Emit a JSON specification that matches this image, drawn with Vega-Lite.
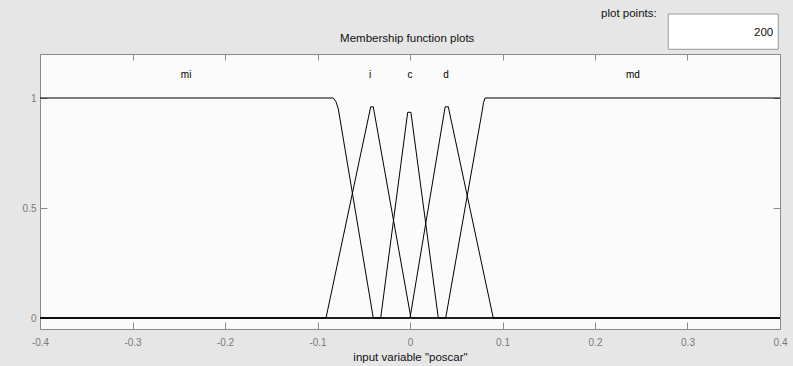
{
  "$schema": "https://vega.github.io/schema/vega-lite/v6.json",
  "width": 740,
  "height": 275,
  "autosize": {"type": "none"},
  "padding": {"left": 40, "top": 54, "right": 13, "bottom": 37},
  "background": "#e6e6e6",
  "config": {
    "locale": {"number": {"decimal": ".", "thousands": ",", "grouping": [3], "currency": ["$", ""], "minus": "-"}},
    "view": {"fill": "#fbfbfb", "stroke": "#8a8a8a", "strokeWidth": 1},
    "axis": {
      "domain": false,
      "grid": false,
      "tickColor": "#8a8a8a",
      "tickWidth": 1,
      "labelFont": "Liberation Sans",
      "labelFontSize": 10,
      "labelColor": "#7a7a7a",
      "titleFont": "Liberation Sans",
      "titleFontSize": 11.5,
      "titleFontWeight": "normal",
      "titleColor": "#111111"
    },
    "text": {"font": "Liberation Sans"}
  },
  "datasets": {
    "mf": [
      {"mf": "mi", "x": -0.4, "mu": 1},
      {"mf": "mi", "x": -0.0829, "mu": 1},
      {"mf": "mi", "x": -0.08, "mu": 0.983},
      {"mf": "mi", "x": -0.0775, "mu": 0.95},
      {"mf": "mi", "x": -0.0397, "mu": 0},
      {"mf": "mi", "x": 0.4, "mu": 0},
      {"mf": "i", "x": -0.4, "mu": 0},
      {"mf": "i", "x": -0.0908, "mu": 0},
      {"mf": "i", "x": -0.0425, "mu": 0.96},
      {"mf": "i", "x": -0.0397, "mu": 0.96},
      {"mf": "i", "x": 0.001, "mu": 0},
      {"mf": "i", "x": 0.4, "mu": 0},
      {"mf": "c", "x": -0.4, "mu": 0},
      {"mf": "c", "x": -0.0317, "mu": 0},
      {"mf": "c", "x": -0.0025, "mu": 0.935},
      {"mf": "c", "x": 0.001, "mu": 0.935},
      {"mf": "c", "x": 0.0306, "mu": 0},
      {"mf": "c", "x": 0.4, "mu": 0},
      {"mf": "d", "x": -0.4, "mu": 0},
      {"mf": "d", "x": 0, "mu": 0},
      {"mf": "d", "x": 0.038, "mu": 0.96},
      {"mf": "d", "x": 0.0414, "mu": 0.96},
      {"mf": "d", "x": 0.09, "mu": 0},
      {"mf": "d", "x": 0.4, "mu": 0},
      {"mf": "md", "x": -0.4, "mu": 0},
      {"mf": "md", "x": 0.0386, "mu": 0},
      {"mf": "md", "x": 0.0784, "mu": 0.95},
      {"mf": "md", "x": 0.0795, "mu": 0.98},
      {"mf": "md", "x": 0.0811, "mu": 1},
      {"mf": "md", "x": 0.4, "mu": 1}
    ],
    "names": [
      {"mf": "mi", "x": -0.242},
      {"mf": "i", "x": -0.043},
      {"mf": "c", "x": 0.0},
      {"mf": "d", "x": 0.039},
      {"mf": "md", "x": 0.241}
    ],
    "setting": [
      {"heading": "Membership function plots", "label": "plot points:", "value": "200"}
    ]
  },
  "resolve": {"axis": {"x": "independent", "y": "independent"}},
  "layer": [
    {
      "data": {"name": "mf"},
      "mark": {"type": "line", "color": "#000000", "strokeWidth": 1, "clip": true},
      "encoding": {
        "x": {
          "field": "x", "type": "quantitative",
          "scale": {"domain": [-0.4, 0.4], "nice": false, "zero": false},
          "axis": {
            "orient": "bottom",
            "values": [-0.4, -0.3, -0.2, -0.1, 0, 0.1, 0.2, 0.3, 0.4],
            "format": "~g",
            "tickSize": -7,
            "labelPadding": 15,
            "labelFlush": false,
            "title": "input variable \"poscar\"",
            "titlePadding": 4
          }
        },
        "y": {
          "field": "mu", "type": "quantitative",
          "scale": {"domain": [-0.05, 1.2], "nice": false, "zero": false},
          "axis": {
            "orient": "left",
            "values": [0, 0.5, 1],
            "format": "~g",
            "tickSize": -7,
            "labelPadding": 11,
            "title": null
          }
        },
        "detail": {"field": "mf", "type": "nominal"}
      }
    },
    {
      "data": {"name": "names"},
      "mark": {"type": "text", "fontSize": 10, "color": "#000000", "baseline": "middle", "align": "center"},
      "encoding": {
        "x": {
          "field": "x", "type": "quantitative",
          "scale": {"domain": [-0.4, 0.4], "nice": false, "zero": false},
          "axis": {
            "orient": "top",
            "values": [-0.4, -0.3, -0.2, -0.1, 0, 0.1, 0.2, 0.3, 0.4],
            "tickSize": -6,
            "labels": false,
            "title": null
          }
        },
        "y": {
          "datum": 1.105,
          "type": "quantitative",
          "scale": {"domain": [-0.05, 1.2], "nice": false, "zero": false},
          "axis": {
            "orient": "right",
            "values": [0, 0.5, 1],
            "tickSize": -7,
            "labels": false,
            "title": null
          }
        },
        "text": {"field": "mf", "type": "nominal"}
      }
    },
    {
      "data": {"name": "setting"},
      "mark": {"type": "text", "fontSize": 11.5, "color": "#111111", "align": "center", "baseline": "alphabetic"},
      "encoding": {
        "x": {"datum": -0.003, "type": "quantitative", "scale": {"domain": [-0.4, 0.4], "nice": false, "zero": false}, "axis": null},
        "y": {"datum": 1.2545, "type": "quantitative", "scale": {"domain": [-0.05, 1.2], "nice": false, "zero": false}, "axis": null},
        "text": {"field": "heading", "type": "nominal"}
      }
    },
    {
      "data": {"name": "setting"},
      "mark": {"type": "rect", "fill": "#ffffff", "stroke": "#9a9a9a", "strokeWidth": 1},
      "encoding": {
        "x": {"datum": 0.2792, "type": "quantitative", "scale": {"domain": [-0.4, 0.4], "nice": false, "zero": false}, "axis": null},
        "x2": {"datum": 0.3981},
        "y": {"datum": 1.3818, "type": "quantitative", "scale": {"domain": [-0.05, 1.2], "nice": false, "zero": false}, "axis": null},
        "y2": {"datum": 1.2214}
      }
    },
    {
      "data": {"name": "setting"},
      "mark": {"type": "text", "fontSize": 11.5, "color": "#111111", "align": "right", "baseline": "alphabetic"},
      "encoding": {
        "x": {"datum": 0.2667, "type": "quantitative", "scale": {"domain": [-0.4, 0.4], "nice": false, "zero": false}, "axis": null},
        "y": {"datum": 1.368, "type": "quantitative", "scale": {"domain": [-0.05, 1.2], "nice": false, "zero": false}, "axis": null},
        "text": {"field": "label", "type": "nominal"}
      }
    },
    {
      "data": {"name": "setting"},
      "mark": {"type": "text", "fontSize": 11.5, "color": "#111111", "align": "right", "baseline": "alphabetic"},
      "encoding": {
        "x": {"datum": 0.3927, "type": "quantitative", "scale": {"domain": [-0.4, 0.4], "nice": false, "zero": false}, "axis": null},
        "y": {"datum": 1.2818, "type": "quantitative", "scale": {"domain": [-0.05, 1.2], "nice": false, "zero": false}, "axis": null},
        "text": {"field": "value", "type": "nominal"}
      }
    }
  ]
}
